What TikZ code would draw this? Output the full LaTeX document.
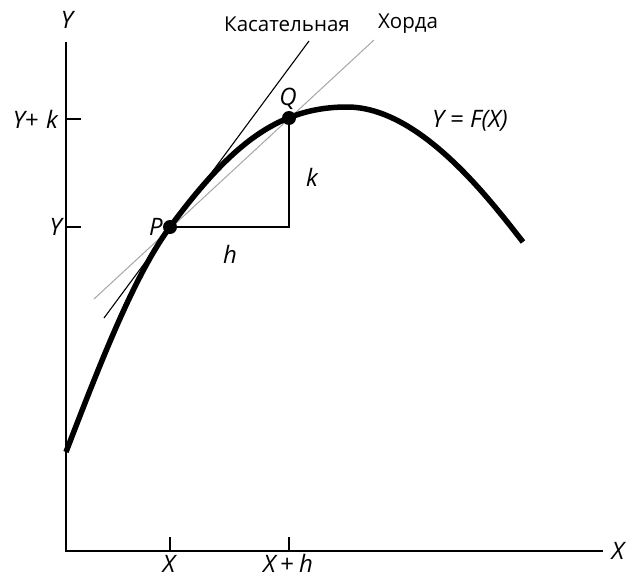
\documentclass[tikz,border=0pt]{standalone}
\usepackage{fontspec}
\setmainfont{Open Sans}
\begin{document}
\begin{tikzpicture}[x=1pt,y=-1pt,
  lbl/.style={font=\fontsize{24}{28}\selectfont\itshape, inner sep=0pt},
  ulbl/.style={font=\fontsize{20.5}{24}\selectfont, inner sep=0pt},
  axisline/.style={line width=1.5pt},
  thinline/.style={line width=1.1pt},
  chordline/.style={line width=1pt, gray!70},
  curveline/.style={line width=5.5pt},
  dot/.style={circle, fill=black, minimum size=14pt, inner sep=0pt}]
\useasboundingbox (0,0) rectangle (626,578);
% axes
\coordinate (O) at (66,551);
\coordinate (Ytop) at (66,42);
\coordinate (Xend) at (603,551);
\draw[axisline] (Ytop) -- (O) -- (Xend);
% ticks
\coordinate (tx1) at (170,551); \coordinate (tx1b) at (170,537);
\coordinate (tx2) at (289,551); \coordinate (tx2b) at (289,537);
\coordinate (ty1) at (66,227); \coordinate (ty1b) at (81,227);
\coordinate (ty2) at (66,119); \coordinate (ty2b) at (81,119);
\draw[axisline] (tx1) -- (tx1b) (tx2) -- (tx2b) (ty1) -- (ty1b) (ty2) -- (ty2b);
% points
\coordinate (Pc) at (170,227);
\coordinate (Qc) at (289,118);
\coordinate (R) at (289,227);
% chord and tangent
\coordinate (ch1) at (94,299); \coordinate (ch2) at (374,40);
\coordinate (ta1) at (104,318); \coordinate (ta2) at (309,41);
\draw[chordline] (ch1) -- (ch2);
\draw[thinline] (ta1) -- (ta2);
% right angle
\draw[thinline] (Pc) -- (R) -- (Qc);
% curve
\coordinate (C0) at (66,452);
\coordinate (Cpk) at (347,107);
\coordinate (Cend) at (523,242);
\draw[curveline] (C0) .. controls (101,361) and (135,274) .. (Pc)
  .. controls (230,146) and (277,107) .. (Cpk)
  .. controls (420,107) and (490,200) .. (Cend);
\node[dot] (P) at (Pc) {};
\node[dot] (Q) at (Qc) {};
% labels
\node[lbl] (lY) at (67,20) {Y};
\node[lbl, anchor=east] (lYk) at (58,119) {Y\upshape+\hspace{0.3em}\itshape k};
\node[lbl, anchor=east] (lY2) at (62,227) {Y};
\node[lbl] (lP) at (156,227) {P};
\node[lbl] (lQ) at (288,99) {Q};
\node[lbl] (lk) at (312,177) {k};
\node[lbl] (lh) at (230,254) {h};
\node[ulbl] (lt) at (287,24) {Касательная};
\node[ulbl] (lc) at (408,24) {Хорда};
\node[lbl, anchor=west] (lF) at (432,121) {Y\hspace{0.25em}\upshape=\hspace{0.25em}\itshape F(X)};
\node[lbl, anchor=base] (lX) at (169,572) {X};
\node[lbl, anchor=base] (lXh) at (288,572) {X\hspace{0.2em}\upshape+\hspace{0.2em}\itshape h};
\node[lbl] (lXr) at (618,551) {X};
\end{tikzpicture}
\end{document}
